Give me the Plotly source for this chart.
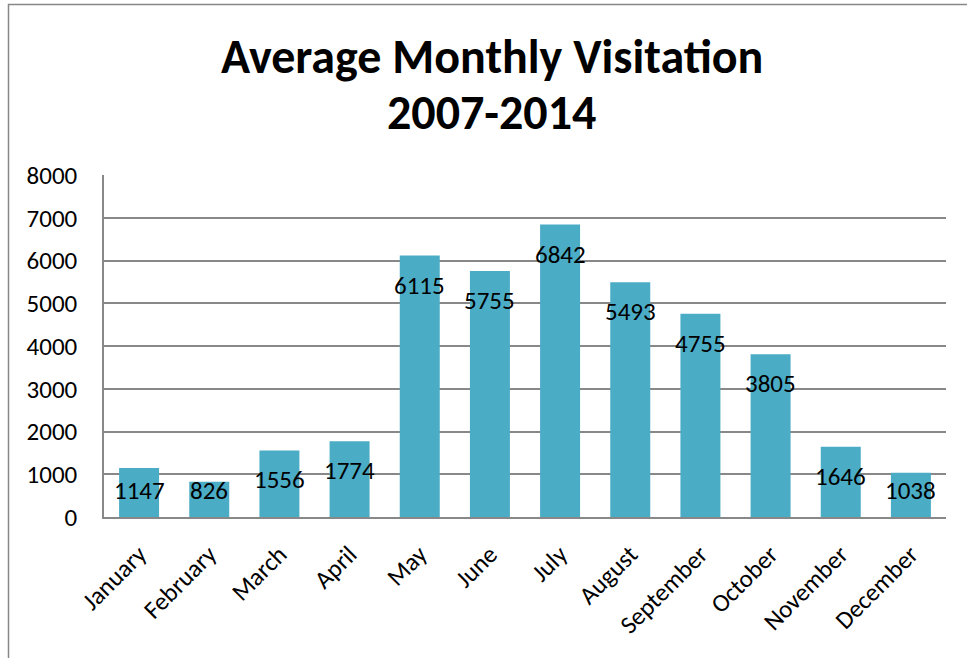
import plotly.graph_objects as go

months = ["January", "February", "March", "April", "May", "June", "July",
          "August", "September", "October", "November", "December"]
visits = [1147, 826, 1556, 1774, 6115, 5755, 6842, 5493, 4755, 3805, 1646, 1038]
y_ticks = [0, 1000, 2000, 3000, 4000, 5000, 6000, 7000, 8000]
title_lines = ["Average Monthly Visitation", "2007-2014"]

FONT = "Carlito, Lato, 'Open Sans', sans-serif"
BAR = "#4BACC6"
GRID = "#888888"

# plot area in pixels: left 104, right 946, top 175, bottom 517
L, R, T, B = 104, 946, 175, 517
W, H = 967, 658
PW, PH = R - L, B - T

def px_x(x):
    return (x - L) / PW

def px_y(y):
    return (B - y) / PH

fig = go.Figure()
fig.add_trace(go.Bar(x=months, y=visits, marker=dict(color=BAR, line=dict(width=0)),
                     width=0.57, hoverinfo="x+y"))

for m, v in zip(months, visits):
    fig.add_annotation(x=m, y=max(v, 1300), text=str(v), showarrow=False,
                       yanchor="middle", yshift=-29.5,
                       font=dict(family=FONT, size=25, color="black"))

for txt, yc in zip(title_lines, [56, 113]):
    fig.add_annotation(xref="paper", yref="paper", x=px_x(491.5), y=px_y(yc),
                       text="<b>" + txt + "</b>", showarrow=False,
                       xanchor="center", yanchor="middle",
                       font=dict(family=FONT, size=48, color="black"))

fig.update_layout(
    width=W, height=H,
    margin=dict(l=L, r=W - R, t=T, b=H - B, autoexpand=False),
    paper_bgcolor="white", plot_bgcolor="white",
    showlegend=False,
    xaxis=dict(showgrid=False, showline=True, linecolor=GRID, linewidth=1.5,
               tickangle=-45, tickfont=dict(family=FONT, size=25, color="black"),
               ticks="", ticklabelstandoff=11, automargin=False),
    yaxis=dict(range=[0, 8000], tickvals=y_ticks, showgrid=True, gridcolor=GRID,
               gridwidth=1.5, showline=True, linecolor=GRID, linewidth=1.5,
               zeroline=False, tickfont=dict(family=FONT, size=25, color="black"),
               ticks="", ticklabelstandoff=20, automargin=False),
    shapes=[dict(type="rect", xref="paper", yref="paper",
                 x0=px_x(8.5), x1=px_x(W + 20), y0=px_y(H + 20), y1=px_y(4.5),
                 line=dict(color="#888888", width=1.5), layer="below")],
)

fig.write_html("out.html", config={"displayModeBar": False},
               post_script="document.body.style.margin='0';")
